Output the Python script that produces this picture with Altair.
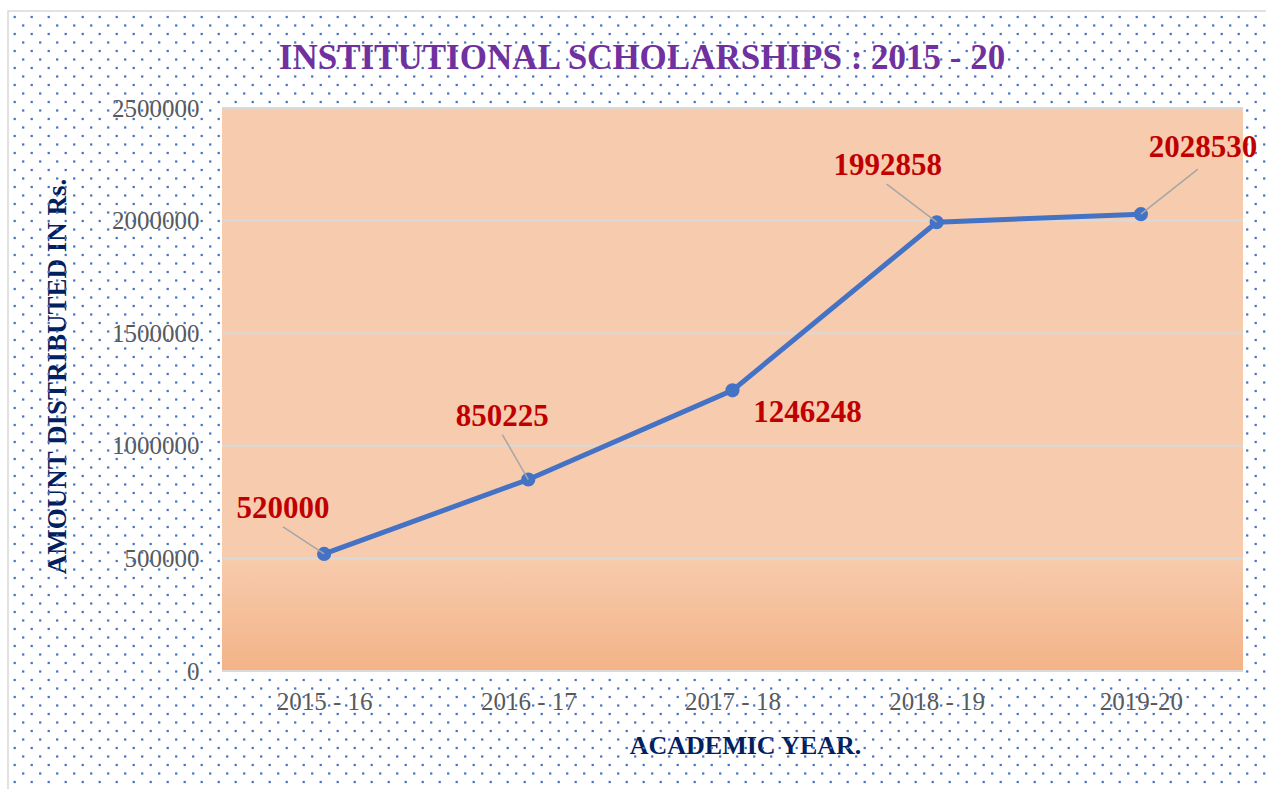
import altair as alt
import pandas as pd

# ---- data ----
years = ["2015 - 16", "2016 - 17", "2017 - 18", "2018 - 19", "2019-20"]
amounts = [520000, 850225, 1246248, 1992858, 2028530]
y_ticks = [0, 500000, 1000000, 1500000, 2000000, 2500000]
title_text = "INSTITUTIONAL SCHOLARSHIPS : 2015 - 20"

df = pd.DataFrame({"year": years, "amount": amounts})
ticks_df = pd.DataFrame({"v": y_ticks})

W, H = 1021, 563
LEFT, TOP = 222, 108
FONT = "Liberation Serif"
NAVY = "#002060"
RED = "#C00000"
BLUE = "#4472C4"

# label placement (dx, dy of label baseline-centre relative to point) and leader start offsets
label_style = [
    {"dx": -41, "dy": -36, "lead": (-41, -27)},
    {"dx": -26, "dy": -54, "lead": (-26, -45)},
    {"dx": 75, "dy": 32, "lead": None},
    {"dx": -49, "dy": -47, "lead": (-50, -38)},
    {"dx": 62, "dy": -57, "lead": (57, -45)},
]

x_scale = alt.Scale(type="point", domain=years, padding=0.5)
y_scale = alt.Scale(domain=[0, 2500000])

x_axis = alt.Axis(
    domain=False, ticks=False, grid=False, labelAngle=0,
    labelFont=FONT, labelFontSize=25, labelColor="#595959", labelPadding=18,
    title="ACADEMIC YEAR.", titleFont=FONT, titleFontSize=26, titleFontWeight="bold",
    titleColor=NAVY, titleX=523, titleY=82, titleAlign="center", titleBaseline="alphabetic",
)
y_axis = alt.Axis(
    values=y_ticks, domain=False, ticks=False, grid=False, format="d",
    labelFont=FONT, labelFontSize=25, labelColor="#595959", labelPadding=23,
    title="AMOUNT DISTRIBUTED IN Rs.", titleFont=FONT, titleFontSize=27, titleFontWeight="bold",
    titleColor=NAVY, titleX=-157, titleY=268, titleAngle=270, titleAlign="center",
    titleBaseline="alphabetic",
)

base = alt.Chart(df)

one = pd.DataFrame({"k": [0]})
plot_bg = alt.Chart(one).mark_rect(
    fill=alt.Gradient(
        gradient="linear", x1=0, x2=0, y1=0, y2=1,
        stops=[
            alt.GradientStop(color="#F7CBAD", offset=0),
            alt.GradientStop(color="#F7CBAD", offset=0.8),
            alt.GradientStop(color="#F3B387", offset=1),
        ],
    )
).encode(x=alt.value(0), x2=alt.value(W), y=alt.value(0), y2=alt.value(H))

grid = alt.Chart(ticks_df).mark_rule(color="#D9D9D9", strokeWidth=2).encode(
    y=alt.Y("v:Q", scale=y_scale, axis=y_axis),
    x=alt.value(0), x2=alt.value(W),
)

line = base.mark_line(color=BLUE, strokeWidth=5).encode(
    x=alt.X("year:N", scale=x_scale, axis=x_axis),
    y=alt.Y("amount:Q", scale=y_scale),
)
points = base.mark_circle(color=BLUE, size=200, opacity=1).encode(
    x=alt.X("year:N", scale=x_scale),
    y=alt.Y("amount:Q", scale=y_scale),
)

layers = [plot_bg, grid, line, points]
for yr, st in zip(years, label_style):
    sub = base.transform_filter(alt.datum.year == yr)
    if st["lead"] is not None:
        ox, oy = st["lead"]
        layers.append(
            sub.mark_rule(color="#A6A6A6", strokeWidth=1.5, xOffset=ox, yOffset=oy).encode(
                x=alt.X("year:N", scale=x_scale), x2="year:N",
                y=alt.Y("amount:Q", scale=y_scale), y2="amount:Q",
            )
        )
    layers.append(
        sub.mark_text(
            font=FONT, fontSize=31, fontWeight="bold", color=RED,
            align="center", baseline="alphabetic", dx=st["dx"], dy=st["dy"],
        ).encode(
            x=alt.X("year:N", scale=x_scale),
            y=alt.Y("amount:Q", scale=y_scale),
            text=alt.Text("amount:Q", format="d"),
        )
    )

main = alt.layer(*layers)

# decorative dotted background texture (pixel space)
dots = (
    alt.Chart(alt.sequence(0, 91 * 75, as_="n"))
    .transform_calculate(row="floor(datum.n / 75)", col="datum.n % 75")
    .transform_calculate(
        px=f"14.7 - {LEFT} + 17 * datum.col + (datum.row % 2) * 8.5",
        py=f"17 - {TOP} + 8.5 * datum.row",
    )
    .transform_filter(f"datum.px < -3 || datum.px > {W + 3} || datum.py < -3 || datum.py > {H + 3}")
    .mark_square(size=5, color=BLUE, opacity=1)
    .encode(
        x=alt.X("px:Q", scale=None, axis=None),
        y=alt.Y("py:Q", scale=None, axis=None),
    )
)
border = alt.Chart(one).mark_rect(fill=None, stroke="#D9D9D9", strokeWidth=1.5).encode(
    x=alt.value(8 - LEFT), x2=alt.value(1275 - LEFT),
    y=alt.value(11 - TOP), y2=alt.value(800 - TOP),
)
title = alt.Chart(one).mark_text(
    text=title_text, font=FONT, fontSize=35, fontWeight="bold", color="#7030A0",
    align="center", baseline="alphabetic",
).encode(x=alt.value(642 - LEFT), y=alt.value(69 - TOP))

chart = (
    alt.layer(dots, border, title, main)
    .resolve_scale(x="independent", y="independent")
    .properties(
        width=W, height=H,
        autosize=alt.AutoSizeParams(type="none"),
        padding={"left": LEFT, "top": TOP, "right": 1266 - LEFT - W, "bottom": 789 - TOP - H},
        background="white",
    )
    .configure_view(stroke=None)
)

chart.save("out.html", embed_options={"renderer": "svg", "actions": False})
